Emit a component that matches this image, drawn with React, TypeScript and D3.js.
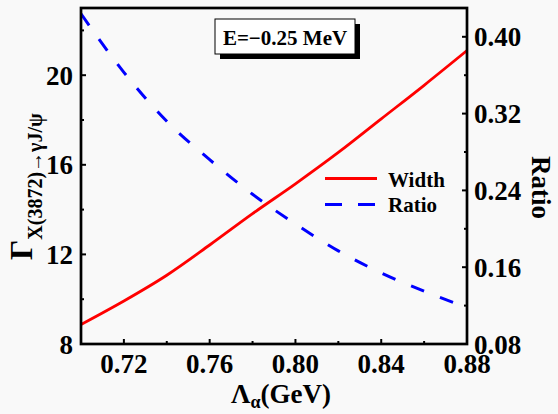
import * as d3 from 'd3'

const lambdaVals = [0.70, 0.72, 0.74, 0.76, 0.78, 0.80, 0.82, 0.84, 0.86, 0.88]
const widthVals = [8.87, 9.92, 11.07, 12.42, 13.82, 15.15, 16.55, 18.05, 19.55, 21.1]
const ratioVals = [0.424, 0.363, 0.312, 0.272, 0.236, 0.205, 0.177, 0.154, 0.135, 0.118]

const xMajor = [0.72, 0.76, 0.80, 0.84, 0.88]
const xMinor = [0.74, 0.78, 0.82, 0.86]
const leftMajor = [8, 12, 16, 20]
const leftMinor = [10, 14, 18, 22]
const rightMajor = [0.08, 0.16, 0.24, 0.32, 0.40]
const rightMinor = [0.12, 0.20, 0.28, 0.36]

const W = 558
const H = 414
const m = { left: 81, right: 467, top: 8, bottom: 344 }
const font = '"Liberation Serif", "Times New Roman", serif'

export default function App() {
  const x = d3.scaleLinear().domain([0.70, 0.88]).range([m.left, m.right])
  const yL = d3.scaleLinear().domain([8, 23]).range([m.bottom, m.top])
  const yR = d3.scaleLinear().domain([0.08, 0.43]).range([m.bottom, m.top])

  const pts = lambdaVals.map((l, i) => ({ l, w: widthVals[i], r: ratioVals[i] }))
  const widthLine = d3.line<any>().x(d => x(d.l)).y(d => yL(d.w)).curve(d3.curveMonotoneX)
  const ratioLine = d3.line<any>().x(d => x(d.l)).y(d => yR(d.r)).curve(d3.curveMonotoneX)

  const fmt2 = d3.format('.2f')

  return (
    <svg width={W} height={H} style={{ position: 'absolute', left: 0, top: 0 }}
      fontFamily={font} fontWeight="bold">
      <rect width={W} height={H} fill="#f9f9f9" />
      <defs>
        <clipPath id="plot">
          <rect x={m.left} y={m.top} width={m.right - m.left} height={m.bottom - m.top} />
        </clipPath>
      </defs>

      {/* curves */}
      <g clipPath="url(#plot)">
        <path d={widthLine(pts) || ''} fill="none" stroke="#ff0000" strokeWidth={2.8} />
        <path d={ratioLine(pts) || ''} fill="none" stroke="#0000ff" strokeWidth={3}
          strokeDasharray="14,17" />
      </g>

      {/* ticks */}
      <g stroke="#000" strokeWidth={2}>
        {xMajor.map(t => <line key={'xM' + t} x1={x(t)} x2={x(t)} y1={m.bottom} y2={m.bottom - 5} />)}
        {xMinor.map(t => <line key={'xm' + t} x1={x(t)} x2={x(t)} y1={m.bottom} y2={m.bottom - 3} />)}
        {leftMajor.map(t => <line key={'lM' + t} x1={m.left} x2={m.left + 5} y1={yL(t)} y2={yL(t)} />)}
        {leftMinor.map(t => <line key={'lm' + t} x1={m.left} x2={m.left + 3} y1={yL(t)} y2={yL(t)} />)}
        {rightMajor.map(t => <line key={'rM' + t} x1={m.right} x2={m.right - 5} y1={yR(t)} y2={yR(t)} />)}
        {rightMinor.map(t => <line key={'rm' + t} x1={m.right} x2={m.right - 3} y1={yR(t)} y2={yR(t)} />)}
      </g>

      {/* frame */}
      <rect x={m.left} y={m.top} width={m.right - m.left} height={m.bottom - m.top}
        fill="none" stroke="#000" strokeWidth={2.7} />

      {/* tick labels */}
      <g fontSize={27} fill="#000">
        {xMajor.map(t => (
          <text key={'xt' + t} x={x(t)} y={373} textAnchor="middle">{fmt2(t)}</text>
        ))}
        {leftMajor.map(t => (
          <text key={'lt' + t} x={73} y={yL(t) + 9.5} textAnchor="end">{t}</text>
        ))}
        {rightMajor.map(t => (
          <text key={'rt' + t} x={474} y={yR(t) + 9.5} textAnchor="start">{fmt2(t)}</text>
        ))}
      </g>

      {/* axis titles */}
      <text x={281} y={403} textAnchor="middle" fontSize={27}>
        <tspan>Λ</tspan>
        <tspan fontSize={18} dy={5}>α</tspan>
        <tspan dy={-5}>(GeV)</tspan>
      </text>
      <text transform="translate(32,260) rotate(-90)" fontSize={32}>
        <tspan>Γ</tspan>
        <tspan fontSize={20} dy={10}>X(3872)→γJ/ψ</tspan>
      </text>
      <text transform="translate(532,156) rotate(90)" fontSize={27}>Ratio</text>

      {/* annotation */}
      <rect x={220} y={24} width={140} height={35} fill="#000" />
      <rect x={215} y={19} width={140} height={35} fill="#fff" stroke="#000" strokeWidth={1} />
      <text x={285} y={44.5} textAnchor="middle" fontSize={21}>E=−0.25 MeV</text>

      {/* legend */}
      <line x1={325} x2={377} y1={178.5} y2={178.5} stroke="#ff0000" strokeWidth={2.8} />
      <text x={388} y={187} fontSize={21}>Width</text>
      <line x1={325} x2={377} y1={204.5} y2={204.5} stroke="#0000ff" strokeWidth={3}
        strokeDasharray="17,16" />
      <text x={388} y={212} fontSize={21}>Ratio</text>
    </svg>
  )
}
